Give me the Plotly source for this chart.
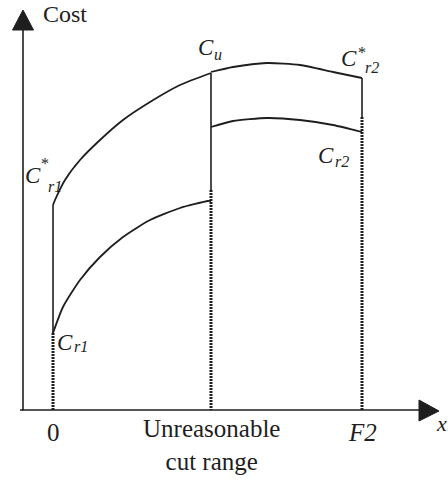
import plotly.graph_objects as go

# Cut positions along the x axis
x_zero = 0.0
x_unreasonable = 15.8
x_f2 = 30.9

# Upper cost curve C*r1 (from 0 up to the unreasonable cut range, ending at Cu)
c_star_r1_x = [0.0, 0.2, 1.2, 2.7, 4.7, 7.0, 9.7, 12.7, 15.8]
c_star_r1_y = [20.5, 21.0, 23.0, 25.0, 27.0, 29.0, 30.8, 32.5, 33.7]

# Upper cost curve continued from Cu to C*r2
c_star_r2_x = [15.8, 18.0, 21.4, 24.7, 28.0, 30.9]
c_star_r2_y = [33.8, 34.3, 34.7, 34.5, 33.8, 33.2]

# Lower cost curve Cr1
c_r1_x = [0.0, 1.0, 2.7, 4.7, 7.0, 9.7, 12.7, 15.5, 15.8]
c_r1_y = [7.7, 10.3, 13.0, 15.3, 17.3, 19.0, 20.2, 20.9, 20.9]

# Lower cost curve Cr2
c_r2_x = [15.8, 18.0, 21.4, 24.7, 28.0, 30.9]
c_r2_y = [28.3, 28.9, 29.2, 29.0, 28.5, 27.8]

tick_labels = ["0", "Unreasonable<br>cut range", "<i>F2</i>"]
tick_positions = [x_zero, x_unreasonable, x_f2]

INK = "#1e1e1e"
SERIF = "Liberation Serif, Times New Roman, serif"
DOTS = "2px,1px"

fig = go.Figure()


def curve(xs, ys, width=1.8):
    fig.add_trace(go.Scatter(
        x=xs, y=ys, mode="lines",
        line=dict(color=INK, width=width, shape="spline", smoothing=0.6),
        hoverinfo="skip", showlegend=False,
    ))


def segment(x, y0, y1, width, dash):
    fig.add_trace(go.Scatter(
        x=[x, x], y=[y0, y1], mode="lines",
        line=dict(color=INK, width=width, dash=dash),
        hoverinfo="skip", showlegend=False,
    ))


curve(c_star_r1_x, c_star_r1_y)
curve(c_star_r2_x, c_star_r2_y)
curve(c_r1_x, c_r1_y)
curve(c_r2_x, c_r2_y)

# Vertical boundaries: solid between the curves, dotted below the lower curve
segment(x_zero, c_star_r1_y[0], c_r1_y[0], 1.6, "solid")
segment(x_zero, c_r1_y[0], 0, 3, DOTS)
segment(x_unreasonable, c_star_r1_y[-1], c_r1_y[-1] + 1.1, 1.6, "solid")
segment(x_unreasonable, c_r1_y[-1] + 1.1, 0, 3, DOTS)
segment(x_f2, c_star_r2_y[-1], c_r2_y[-1] + 1.5, 1.6, "solid")
segment(x_f2, c_r2_y[-1] + 1.5, 0, 3, DOTS)

# Axes with arrow heads
axis_x0 = -3.0
fig.add_trace(go.Scatter(x=[axis_x0, axis_x0], y=[-0.05, 38.3], mode="lines",
                         line=dict(color=INK, width=1.6), hoverinfo="skip", showlegend=False))
fig.add_trace(go.Scatter(x=[-3.3, 36.8], y=[0, 0], mode="lines",
                         line=dict(color=INK, width=1.6), hoverinfo="skip", showlegend=False))
fig.add_trace(go.Scatter(x=[axis_x0 - 1.05, axis_x0, axis_x0 + 1.05, axis_x0 - 1.05],
                         y=[38.0, 40.0, 38.0, 38.0], mode="lines", fill="toself",
                         fillcolor=INK, line=dict(color=INK, width=1),
                         hoverinfo="skip", showlegend=False))
fig.add_trace(go.Scatter(x=[36.6, 38.6, 36.6, 36.6], y=[1.0, -0.1, -1.1, 1.0],
                         mode="lines", fill="toself", fillcolor=INK,
                         line=dict(color=INK, width=1), hoverinfo="skip", showlegend=False))


def text(x, y, s, size, xanchor="center", yanchor="middle"):
    fig.add_annotation(x=x, y=y, text=s, showarrow=False, xanchor=xanchor, yanchor=yanchor,
                       borderpad=0, font=dict(family=SERIF, size=size, color=INK))


# Axis titles and tick labels
text(-1.15, 39.6, "Cost", 24, xanchor="left")
text(39.5, -1.3, "<i>x</i>", 22, xanchor="right")
for pos, lab in zip(tick_positions, tick_labels):
    if "<br>" in lab:
        text(pos, -3.5, lab, 25)
    else:
        text(pos, -2.2, lab, 25)


# Curve labels: italic C with optional star and a subscript
def cost_label(cx, cy, sub, sub_dx, sub_dy, star=None):
    text(cx, cy, "<i>C</i>", 23)
    if star is not None:
        text(cx + star[0], cy + star[1], "*", 16)
    text(cx + sub_dx, cy + sub_dy, "<i>" + sub + "</i>", 16, xanchor="left")


cost_label(-2.05, 23.5, "r1", 1.4, -1.1, star=(1.2, 1.2))
cost_label(15.25, 36.25, "u", 0.75, -0.65)
cost_label(29.6, 35.15, "r2", 1.45, -0.85, star=(1.3, 0.6))
cost_label(27.25, 25.5, "r2", 0.85, -0.6)
cost_label(1.2, 6.75, "r1", 0.8, -0.35)

fig.update_layout(
    width=448, height=484,
    margin=dict(l=0, r=0, t=0, b=0),
    paper_bgcolor="white", plot_bgcolor="white",
    xaxis=dict(range=[-5.3, 39.5], visible=False, fixedrange=True),
    yaxis=dict(range=[-7.4, 41.0], visible=False, fixedrange=True),
    showlegend=False,
)

fig.write_html("out.html")
